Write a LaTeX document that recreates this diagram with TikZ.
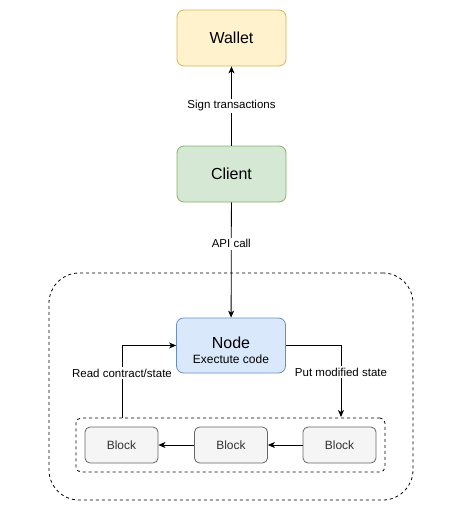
\documentclass[tikz,border=0pt]{standalone}
\usepackage{fontspec}
\setmainfont{Liberation Sans}
\usetikzlibrary{arrows.meta,positioning}
\definecolor{wfill}{HTML}{FFF2CC}\definecolor{wdraw}{HTML}{D6B656}
\definecolor{cfill}{HTML}{D5E8D4}\definecolor{cdraw}{HTML}{82B366}
\definecolor{nfill}{HTML}{DAE8FC}\definecolor{ndraw}{HTML}{6C8EBF}
\definecolor{bfill}{HTML}{F5F5F5}\definecolor{bdraw}{HTML}{666666}
\definecolor{btext}{HTML}{333333}
\begin{document}
\begin{tikzpicture}[x=1pt,y=-1pt,
  box/.style={draw,rounded corners=7pt,minimum width=109pt,minimum height=56pt,inner sep=0pt,line width=0.8pt,font=\fontsize{16}{18}\selectfont},
  blockbox/.style={draw=bdraw,fill=bfill,text=btext,rounded corners=5pt,minimum width=73pt,minimum height=36pt,inner sep=0pt,line width=0.8pt,font=\fontsize{12}{14}\selectfont},
  conn/.style={draw,line width=0.8pt,-{Stealth[length=7pt,width=6pt,inset=2pt]}},
  lbl/.style={fill=white,inner sep=1.5pt,font=\fontsize{11.5}{13}\selectfont},
  grp/.style={draw,line width=0.8pt,dash pattern=on 3pt off 3pt}
]
\useasboundingbox (0,0) rectangle (467,522);
\node[grp,rounded corners=30pt,minimum width=364pt,minimum height=227pt] (outer) at (231,386.5) {};
\node[grp,rounded corners=5pt,minimum width=309pt,minimum height=54pt] (inner) at (230.5,445) {};
\node[box,fill=wfill,draw=wdraw] (wallet) at (231.5,38) {Wallet};
\node[box,fill=cfill,draw=cdraw] (client) at (231.5,174) {Client};
\node[box,fill=nfill,draw=ndraw,minimum height=55pt] (node) at (231,345.5) {};
\node[font=\fontsize{16}{18}\selectfont,inner sep=0pt] (nodet) at (231,343) {Node};
\node[font=\fontsize{12}{14}\selectfont,inner sep=0pt] (nodes) at (231,359.5) {Exectute code};
\node[blockbox] (b1) at (121.5,445) {Block};
\node[blockbox] (b2) at (231,445) {Block};
\node[blockbox] (b3) at (339.5,445) {Block};
\coordinate (lup) at (122,418);
\coordinate (rdown) at (341,417);
\draw[conn] (client) -- node[lbl]{Sign transactions} (wallet);
\draw[conn] (client) -- node[lbl,pos=0.36]{API call} (node);
\draw[conn] (lup) -- node[lbl,pos=0.62]{Read contract/state} (lup |- node.west) -- (node.west);
\draw[conn] (node.east) -- (rdown |- node.east) -- node[lbl,pos=0.37]{Put modified state} (rdown);
\draw[conn] (b3) -- (b2);
\draw[conn] (b2) -- (b1);
\end{tikzpicture}
\end{document}
